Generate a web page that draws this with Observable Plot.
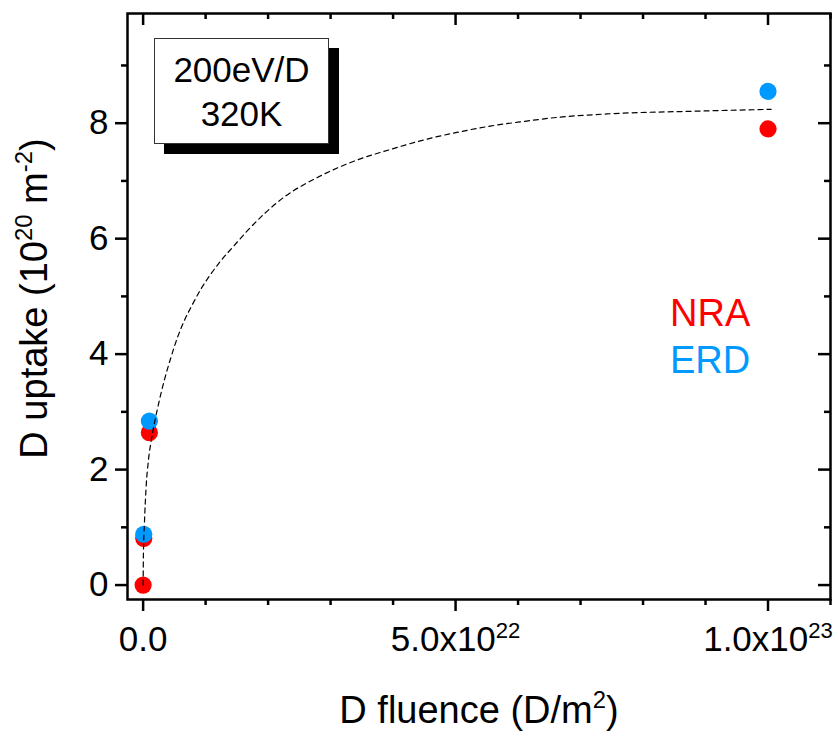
<!DOCTYPE html>
<html>
<head>
<meta charset="utf-8">
<script src="https://cdn.jsdelivr.net/npm/d3@7"></script>
<script src="https://cdn.jsdelivr.net/npm/@observablehq/plot@0.6"></script>
<style>
  body { margin: 0; background: #fff; }
  #wrap { position: relative; width: 836px; height: 731px; font-family: "Liberation Sans", Arial, sans-serif; }
  #box { position: absolute; left: 154px; top: 38px; width: 175px; height: 106px; box-sizing: border-box;
         border: 1px solid #333; background: #fff; box-shadow: 10px 10px 0 0 #000;
         text-align: center; font-size: 35px; line-height: 44px; padding-top: 9px; color: #000; }
  #legend { position: absolute; left: 670px; top: 290px; font-size: 38px; line-height: 47px; }
</style>
</head>
<body>
<div id="wrap"></div>
<script>
// ---- data ----
const nraFluence = [0, 1e20, 1e21, 1e23];
const nraUptake  = [0, 0.81, 2.64, 7.90];
const erdFluence = [1e20, 1e21, 1e23];
const erdUptake  = [0.88, 2.84, 8.55];
// dashed fit curve (fluence in units of 1e22 D/m^2)
const fitFluence22 = [0, 0.005, 0.021, 0.048, 0.085, 0.139, 0.235, 0.34, 0.447, 0.554, 0.659, 0.794, 0.926, 1.086, 1.245, 1.432, 1.645, 2.256, 2.789, 3.321, 4.067, 4.49, 5.02, 5.556, 6.088, 6.62, 7.42, 8.91, 10.05];
const fitUptake    = [0, 0.55, 1.07, 1.70, 2.16, 2.56, 3.08, 3.55, 3.95, 4.30, 4.58, 4.87, 5.13, 5.39, 5.62, 5.85, 6.11, 6.72, 7.06, 7.32, 7.58, 7.71, 7.84, 7.95, 8.03, 8.10, 8.16, 8.21, 8.24];
const xMajorTicks = [0, 5e22, 1e23];
const xTickLabels = ["0.0", "5.0x10^22", "1.0x10^23"];
const xMinorTicks = [1e22, 2e22, 3e22, 4e22, 6e22, 7e22, 8e22, 9e22, 1.1e23];
const yMajorTicks = [0, 2, 4, 6, 8];
const yMinorTicks = [1, 3, 5, 7, 9];
const xTitle = "D fluence (D/m^2)";
const yTitle = "D uptake (10^20 m^-2)";
const seriesNames = ["NRA", "ERD"];
const seriesColors = ["#FF0000", "#0099FF"];
const boxLines = ["200eV/D", "320K"];

// ---- build ----
const nra = nraFluence.map((x, i) => ({x, y: nraUptake[i]}));
const erd = erdFluence.map((x, i) => ({x, y: erdUptake[i]}));
const fit = fitFluence22.map((v, i) => ({x: v * 1e22, y: fitUptake[i]}));
const xLabelMap = new Map(xMajorTicks.map((d, i) => [d, xTickLabels[i]]));

const W = 836, H = 731, mL = 127, mR = 6, mT = 13, mB = 132;
const plotW = W - mL - mR, plotH = H - mT - mB;
const sw = 2.5;

const chart = Plot.plot({
  width: W, height: H,
  marginLeft: mL, marginRight: mR, marginTop: mT, marginBottom: mB,
  style: {fontFamily: '"Liberation Sans", Arial, sans-serif', fontSize: "35px", color: "black", background: "white", overflow: "visible"},
  x: {domain: [-2.5e21, 1.1e23]},
  y: {domain: [-0.25, 9.9]},
  marks: [
    Plot.dot(nra, {x: "x", y: "y", r: 8.6, fill: seriesColors[0]}),
    Plot.dot(erd, {x: "x", y: "y", r: 8.6, fill: seriesColors[1]}),
    Plot.line(fit, {x: "x", y: "y", stroke: "black", strokeWidth: 1.2, strokeDasharray: "5,4", curve: "monotone-x"}),
    Plot.frame({stroke: "black", strokeWidth: sw}),
    // bottom axis (outward ticks)
    Plot.axisX({anchor: "bottom", ticks: xMajorTicks, tickSize: 12, tickPadding: 15, tickFormat: d => xLabelMap.get(d), strokeWidth: sw, label: null}),
    Plot.axisX({anchor: "bottom", ticks: xMinorTicks, tickSize: 6, tickFormat: () => "", strokeWidth: sw, label: null}),
    // left axis (outward ticks)
    Plot.axisY({anchor: "left", ticks: yMajorTicks, tickSize: 12, tickPadding: 7, tickFormat: d => String(d), strokeWidth: sw, label: null}),
    Plot.axisY({anchor: "left", ticks: yMinorTicks, tickSize: 6, tickFormat: () => "", strokeWidth: sw, label: null}),
    // top axis (inward ticks)
    Plot.tickX(xMajorTicks, {x: d => d, insetBottom: plotH - 12, stroke: "black", strokeWidth: sw}),
    Plot.tickX(xMinorTicks, {x: d => d, insetBottom: plotH - 6, stroke: "black", strokeWidth: sw}),
    // right axis (inward ticks)
    Plot.tickY(yMajorTicks, {y: d => d, insetLeft: plotW - 12, stroke: "black", strokeWidth: sw}),
    Plot.tickY(yMinorTicks, {y: d => d, insetLeft: plotW - 6, stroke: "black", strokeWidth: sw}),
    // axis titles
    Plot.text([xTitle], {text: d => d, frameAnchor: "bottom", textAnchor: "middle", lineAnchor: "middle", dy: 111, fontSize: 38, fill: "black"}),
    Plot.text([yTitle], {text: d => d, frameAnchor: "left", textAnchor: "middle", lineAnchor: "middle", rotate: -90, dx: -93, dy: -8, fontSize: 38, fill: "black"})
  ]
});

const wrap = document.getElementById("wrap");
wrap.appendChild(chart);

// superscripts: "10^22" -> 10 with raised 22
const NS = "http://www.w3.org/2000/svg";
chart.querySelectorAll("text").forEach(el => {
  const s = el.textContent;
  if (!s.includes("^")) return;
  const fs = parseFloat(getComputedStyle(el).fontSize);
  const parts = s.split(/\^([-\d]+)/);
  el.textContent = "";
  let raised = false;
  parts.forEach((p, i) => {
    if (p === "") return;
    const t = document.createElementNS(NS, "tspan");
    t.textContent = p;
    if (i % 2 === 1) {
      t.setAttribute("font-size", (fs * 0.63).toFixed(1));
      t.setAttribute("dy", (-fs * 0.39).toFixed(1));
      raised = true;
    } else if (raised) {
      t.setAttribute("dy", (fs * 0.39).toFixed(1));
      raised = false;
    }
    el.appendChild(t);
  });
});

// annotation box
const box = document.createElement("div");
box.id = "box";
boxLines.forEach(line => { const d = document.createElement("div"); d.textContent = line; box.appendChild(d); });
wrap.appendChild(box);

// legend (series names in series colours)
const legend = document.createElement("div");
legend.id = "legend";
seriesNames.forEach((n, i) => { const d = document.createElement("div"); d.textContent = n; d.style.color = seriesColors[i]; legend.appendChild(d); });
wrap.appendChild(legend);
</script>
</body>
</html>
